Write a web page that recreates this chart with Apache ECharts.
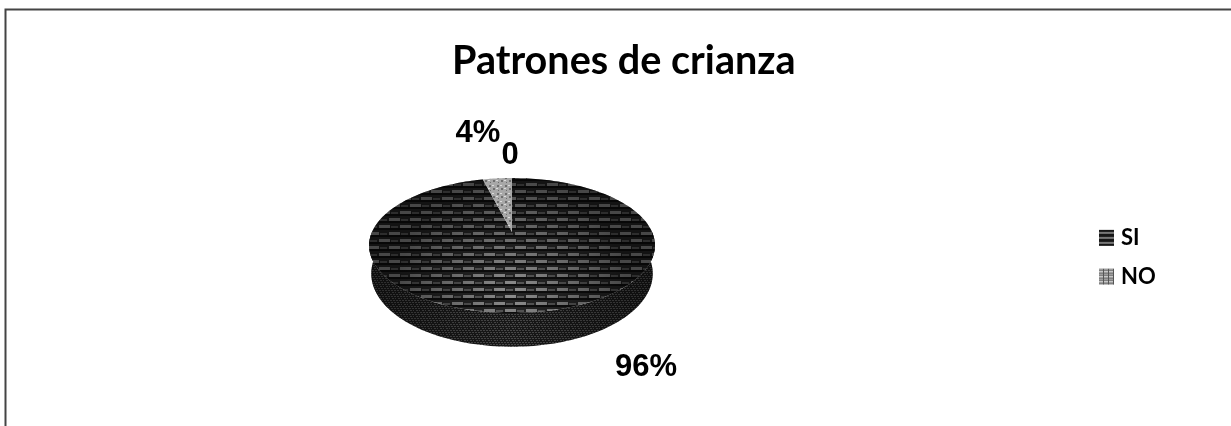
<!DOCTYPE html>
<html>

<head>
    <title>Patrones de crianza</title>
    <style>
        html, body { margin: 0; padding: 0; background: #fff; }
        /* the reference is a slightly soft scan */
        #main { filter: blur(0.45px); }
    </style>
</head>

<body>
    <div id="main" style="width: 1231px;height:426px;"></div>

    <script src="https://cdn.jsdelivr.net/npm/echarts@6/dist/echarts.min.js"></script>
    <script>
        var chartTitle = 'Patrones de crianza';
        var categories = ['SI', 'NO'];
        var sliceValues = [96, 4];
        var sliceLabels = ['96%', '4%'];
        var emptyPointLabel = '0';

        // little canvas tiles for the excel style hatch fills
        function makeTile(w, h, draw) {
            var c = document.createElement('canvas');
            c.width = w;
            c.height = h;
            draw(c.getContext('2d'));
            return { image: c, repeat: 'repeat' };
        }
        var siTop = makeTile(21, 14, function (g) {
            g.fillStyle = '#262626';
            g.fillRect(0, 0, 21, 14);
            g.fillStyle = '#0e0e0e';
            g.fillRect(0, 4, 21, 2);
            g.fillRect(0, 11, 21, 2);
            g.fillStyle = '#8e8e8e';
            g.fillRect(1, 1, 11, 3);
            g.fillRect(11, 8, 10, 3);
            g.fillRect(0, 8, 1, 3);
            g.fillStyle = '#5a5a5a';
            g.fillRect(13, 2, 7, 2);
            g.fillRect(2, 9, 7, 2);
        });
        var siSide = makeTile(6, 6, function (g) {
            g.fillStyle = '#181818';
            g.fillRect(0, 0, 6, 6);
            g.fillStyle = '#484848';
            for (var i = 0; i < 6; i++) {
                g.fillRect(i, (i * 2) % 6, 2, 1);
            }
        });
        var noTop = makeTile(8, 8, function (g) {
            g.fillStyle = '#a8a8a8';
            g.fillRect(0, 0, 8, 8);
            g.fillStyle = '#6e6e6e';
            g.fillRect(1, 1, 2, 2);
            g.fillRect(5, 4, 2, 2);
            g.fillRect(2, 6, 1, 1);
            g.fillStyle = '#dcdcdc';
            g.fillRect(4, 1, 2, 1);
            g.fillRect(0, 4, 2, 1);
        });
        var siIcon = makeTile(15, 16, function (g) {
            g.fillStyle = '#161616';
            g.fillRect(0, 0, 15, 16);
            g.fillStyle = '#777';
            g.fillRect(0, 2, 15, 2);
            g.fillRect(0, 7, 15, 2);
            g.fillRect(0, 12, 15, 2);
        });
        var noIcon = makeTile(5, 5, function (g) {
            g.fillStyle = '#555';
            g.fillRect(0, 0, 5, 5);
            g.fillStyle = '#c8c8c8';
            g.fillRect(0, 0, 4, 1);
            g.fillRect(0, 2, 4, 2);
        });

        // flat disc seen in perspective, angles clockwise from 12 o'clock
        var disc = { cx: 512, cy: 232, rx: 140, ry: 64.8, k: -0.2, depth: 27 };
        var sliceFills = [siTop, noTop];
        var total = sliceValues.reduce(function (a, b) { return a + b; }, 0);

        function rimPoint(a, drop) {
            var u = Math.sin(a), v = -Math.cos(a);
            var w = 1 + disc.k * v;
            var xs = drop ? 0.985 : 1;
            return [
                disc.cx + xs * disc.rx * u / w,
                disc.cy + disc.ry * v / w + (drop ? disc.depth / w : 0)
            ];
        }
        function arcPoints(a0, a1, drop) {
            var n = Math.max(2, Math.ceil(Math.abs(a1 - a0) * 40));
            var pts = [];
            for (var i = 0; i <= n; i++) {
                pts.push(rimPoint(a0 + (a1 - a0) * i / n, drop));
            }
            return pts;
        }
        function renderSlice(params, api) {
            var before = 0;
            for (var i = 0; i < params.seriesIndex; i++) {
                before += sliceValues[i];
            }
            var a0 = before / total * Math.PI * 2;
            var a1 = (before + api.value(0)) / total * Math.PI * 2;
            var children = [];
            // outer wall, only the part of the arc that faces us
            var f0 = Math.max(a0, Math.PI / 2), f1 = Math.min(a1, Math.PI * 1.5);
            if (f1 > f0) {
                var wall = arcPoints(f0, f1, false).concat(arcPoints(f1, f0, true));
                children.push({ type: 'polygon', shape: { points: wall }, style: { fill: siSide } });
                children.push({
                    type: 'polygon', shape: { points: wall }, silent: true,
                    style: {
                        fill: new echarts.graphic.LinearGradient(0, 0, 1, 0, [
                            { offset: 0, color: 'rgba(0,0,0,0.4)' },
                            { offset: 0.5, color: 'rgba(0,0,0,0)' },
                            { offset: 1, color: 'rgba(0,0,0,0.4)' }
                        ])
                    }
                });
            }
            var top = [[disc.cx, disc.cy]].concat(arcPoints(a0, a1, false));
            children.push({ type: 'polygon', shape: { points: top }, style: { fill: sliceFills[params.seriesIndex] } });
            if (params.seriesIndex === 0) {
                // the hatch gets brighter towards the front of the disc
                children.push({
                    type: 'polygon', shape: { points: top }, silent: true,
                    style: {
                        fill: new echarts.graphic.RadialGradient(0.5, 0.85, 0.85, [
                            { offset: 0, color: 'rgba(0,0,0,0)' },
                            { offset: 1, color: 'rgba(0,0,0,0.5)' }
                        ])
                    }
                });
            }
            return { type: 'group', children: children };
        }

        var myChart = echarts.init(document.getElementById('main'));

        var labelFont = 'bold 31px "Liberation Sans", Arial, sans-serif';
        var option = {
            animation: false,
            title: {
                text: chartTitle,
                left: 452,
                top: 31,
                padding: 0,
                textStyle: { fontFamily: 'Lato', fontWeight: 'bold', fontSize: 39.6, color: '#000' }
            },
            legend: {
                orient: 'vertical',
                left: 1099,
                top: 221,
                padding: 0,
                itemWidth: 15,
                itemHeight: 16,
                itemGap: 5,
                selectedMode: false,
                icon: 'rect',
                textStyle: { fontFamily: 'Lato', fontWeight: 'bold', fontSize: 22, color: '#000', padding: [0, 0, 0, 2] },
                data: [
                    { name: categories[0], itemStyle: { color: siIcon } },
                    { name: categories[1], itemStyle: { color: noIcon } }
                ]
            },
            graphic: [
                {
                    type: 'rect', silent: true,
                    shape: { x: 5.5, y: 9.5, width: 1400, height: 600 },
                    style: { fill: 'none', stroke: '#444', lineWidth: 2 }
                },
                { type: 'text', x: 646, y: 367, style: { text: sliceLabels[0], font: labelFont, fill: '#000', align: 'center', verticalAlign: 'middle' } },
                { type: 'text', x: 478, y: 133, style: { text: sliceLabels[1], font: labelFont, fill: '#000', align: 'center', verticalAlign: 'middle' } },
                { type: 'text', x: 510, y: 155, style: { text: emptyPointLabel, font: labelFont, fill: '#000', align: 'center', verticalAlign: 'middle' } }
            ],
            series: categories.map(function (name, i) {
                return {
                    type: 'custom',
                    name: name,
                    coordinateSystem: 'none',
                    renderItem: renderSlice,
                    data: [[sliceValues[i]]]
                };
            })
        };
        myChart.setOption(option);
    </script>
</body>

</html>
